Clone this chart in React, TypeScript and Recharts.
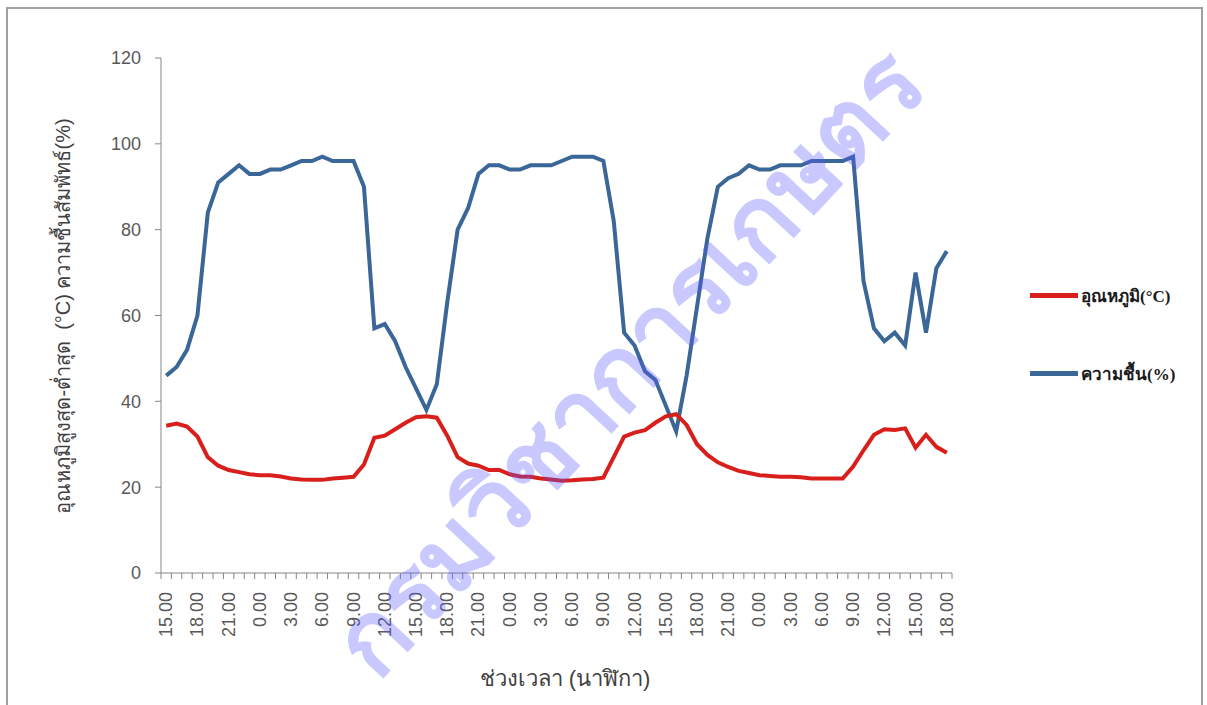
import React from 'react';
import { LineChart, Line, XAxis, YAxis } from 'recharts';

const hourLabels: string[] = [
  '15.00','16.00','17.00','18.00','19.00','20.00','21.00','22.00','23.00','0.00','1.00','2.00','3.00','4.00','5.00','6.00','7.00','8.00','9.00','10.00','11.00','12.00','13.00','14.00',
  '15.00','16.00','17.00','18.00','19.00','20.00','21.00','22.00','23.00','0.00','1.00','2.00','3.00','4.00','5.00','6.00','7.00','8.00','9.00','10.00','11.00','12.00','13.00','14.00',
  '15.00','16.00','17.00','18.00','19.00','20.00','21.00','22.00','23.00','0.00','1.00','2.00','3.00','4.00','5.00','6.00','7.00','8.00','9.00','10.00','11.00','12.00','13.00','14.00',
  '15.00','16.00','17.00','18.00',
];

const temperature: number[] = [
  34.3, 34.8, 34.1, 31.8, 27.0, 25.0, 24.0, 23.5, 23.0, 22.8, 22.8, 22.5, 22.0, 21.8, 21.7, 21.7, 22.0, 22.2, 22.4, 25.3,
  31.5, 32.0, 33.5, 35.0, 36.3, 36.5, 36.2, 32.0, 27.0, 25.5, 25.0, 24.0, 24.0, 23.0, 22.5, 22.4, 22.0, 21.8, 21.5, 21.6,
  21.8, 21.9, 22.2, 27.0, 31.8, 32.7, 33.3, 35.0, 36.5, 37.0, 34.5, 30.0, 27.5, 25.8, 24.7, 23.8, 23.3, 22.8, 22.6, 22.4,
  22.4, 22.3, 22.0, 22.0, 22.0, 22.0, 24.8, 28.6, 32.2, 33.5, 33.3, 33.7, 29.2, 32.2, 29.4, 28.0,
];

const humidity: number[] = [
  46, 48, 52, 60, 84, 91, 93, 95, 93, 93, 94, 94, 95, 96, 96, 97, 96, 96, 96, 90,
  57, 58, 54, 48, 43, 38, 44, 63, 80, 85, 93, 95, 95, 94, 94, 95, 95, 95, 96, 97,
  97, 97, 96, 82, 56, 53, 47, 45, 39, 33, 46, 62, 78, 90, 92, 93, 95, 94, 94, 95,
  95, 95, 96, 96, 96, 96, 97, 68, 57, 54, 56, 53, 70, 56, 71, 75,
];

const yTicks: number[] = [0, 20, 40, 60, 80, 100, 120];

const seriesNames = ['อุณหภูมิ(°C)', 'ความชื้น(%)'];
const seriesColors = ['#d81f1c', '#3a6698'];

const data = hourLabels.map((h, i) => ({ hour: h, temp: temperature[i], hum: humidity[i] }));

const PLOT_W = 791;
const HALF_BAND = PLOT_W / hourLabels.length / 2;
const tickFont = '"Liberation Sans", Arial, sans-serif';

const XTick = (props: any) => {
  const { x, y, index, payload } = props;
  const showLabel = index % 3 === 0;
  const last = index === hourLabels.length - 1;
  return (
    <g>
      <line x1={x - HALF_BAND} x2={x - HALF_BAND} y1={y} y2={y + 6} stroke="#868686" strokeWidth={1} />
      {last && <line x1={x + HALF_BAND} x2={x + HALF_BAND} y1={y} y2={y + 6} stroke="#868686" strokeWidth={1} />}
      {showLabel && (
        <text
          x={x}
          y={y + 19}
          textAnchor="end"
          dominantBaseline="central"
          transform={`rotate(-90, ${x}, ${y + 19})`}
          fill="#595959"
          fontSize={18}
          fontFamily={tickFont}
        >
          {payload.value}
        </text>
      )}
    </g>
  );
};

export default function App() {
  return (
    <div style={{ position: 'absolute', left: 0, top: 0, width: 1207, height: 705, background: '#fff', overflow: 'hidden' }}>
      <div style={{ position: 'absolute', left: 6, top: 7, width: 1197, height: 700, border: '2px solid #a0a0a0', boxSizing: 'border-box' }} />
      <div style={{ position: 'absolute', left: 0, top: 0 }}>
        <LineChart width={1207} height={705} data={data} margin={{ top: 58, right: 255, left: 101, bottom: 92 }}>
          <XAxis
            dataKey="hour"
            interval={0}
            height={40}
            padding={{ left: HALF_BAND, right: HALF_BAND }}
            axisLine={{ stroke: '#868686', strokeWidth: 1 }}
            tickLine={false}
            tickSize={0}
            tickMargin={0}
            tick={<XTick />}
          />
          <YAxis
            domain={[0, 120]}
            ticks={yTicks}
            width={60}
            interval={0}
            axisLine={{ stroke: '#868686', strokeWidth: 1 }}
            tickLine={{ stroke: '#868686' }}
            tickSize={6}
            tickMargin={14}
            tick={{ fill: '#595959', fontSize: 18, fontFamily: tickFont }}
          />
          <Line type="linear" dataKey="hum" name={seriesNames[1]} stroke={seriesColors[1]} strokeWidth={4} dot={false} isAnimationActive={false} />
          <Line type="linear" dataKey="temp" name={seriesNames[0]} stroke={seriesColors[0]} strokeWidth={4} dot={false} isAnimationActive={false} />
        </LineChart>
      </div>
      {/* y axis title */}
      <div
        style={{
          position: 'absolute', left: 63, top: 316, transform: 'translate(-50%, -50%) rotate(-90deg)',
          whiteSpace: 'nowrap', fontSize: 20, color: '#404040', fontFamily: tickFont,
        }}
      >
        อุณหภูมิสูงสุด-ต่ำสุด&nbsp;&nbsp;(°C) ความชื้นสัมพัทธ์(%)
      </div>
      {/* x axis title */}
      <div
        style={{
          position: 'absolute', left: 565, top: 678, transform: 'translate(-50%, -50%)',
          whiteSpace: 'nowrap', fontSize: 22, color: '#404040', fontFamily: tickFont,
        }}
      >
        ช่วงเวลา (นาฬิกา)
      </div>
      {/* legend */}
      {[0, 1].map((k) => (
        <div key={k} style={{ position: 'absolute', left: 1030, top: k === 0 ? 283 : 361, height: 24, display: 'flex', alignItems: 'center' }}>
          <div style={{ width: 48, height: 5, background: seriesColors[k] }} />
          <div style={{ marginLeft: 3, fontSize: 17, fontWeight: 'bold', fontFamily: '"Liberation Serif", serif', color: '#1a1a1a', whiteSpace: 'nowrap' }}>
            {seriesNames[k]}
          </div>
        </div>
      ))}
      {/* watermark */}
      <div
        style={{
          position: 'absolute', left: 628, top: 362, transform: 'translate(-50%, -50%) rotate(-47deg)',
          whiteSpace: 'nowrap', fontSize: 100, fontWeight: 'bold', color: 'rgba(90,90,255,0.33)', fontFamily: tickFont,
          pointerEvents: 'none', lineHeight: 1,
        }}
      >
        กรมวิชาการเกษตร
      </div>
    </div>
  );
}
